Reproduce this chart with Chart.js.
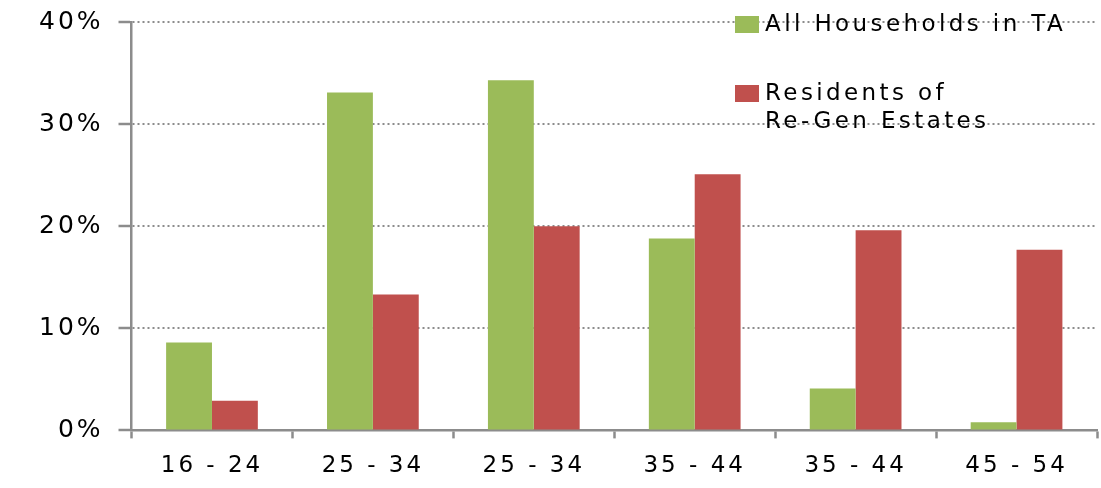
<!DOCTYPE html>
<html>
<head>
<meta charset="utf-8">
<script src="https://cdn.jsdelivr.net/npm/chart.js@4"></script>
<style>
  html, body { margin: 0; padding: 0; background: #fff; }
  #wrap { width: 1101px; height: 488px; }
</style>
</head>
<body>
<div id="wrap"><canvas id="myChart" width="1101" height="488"></canvas></div>
<script>
// 年齢層ラベル
const categories = ['16 - 24', '25 - 34', '25 - 34', '35 - 44', '35 - 44', '45 - 54'];
// 系列データ (%)
const allHouseholds = [8.6, 33.1, 34.3, 18.8, 4.1, 0.8];
const regenResidents = [2.9, 13.3, 20.0, 25.1, 19.6, 17.7];
// 凡例ラベル
const seriesLabels = [['All Households in TA'], ['Residents of', 'Re-Gen Estates']];
const seriesColors = ['#9BBB59', '#C0504D'];
const yTicks = [0, 10, 20, 30, 40];

const FONT = '"DejaVu Sans", Verdana, sans-serif';
const SPACING = '2px';

// 軸ラベル描画時だけ文字間隔を変える
function widenLabels(scale, spacing) {
    if (scale._widened) return;
    const orig = scale.drawLabels;
    scale.drawLabels = function (area) {
        const old = this.ctx.letterSpacing;
        this.ctx.letterSpacing = spacing;
        orig.call(this, area);
        this.ctx.letterSpacing = old;
    };
    scale._widened = true;
}

// 文字間隔を広げる (元画像は横長の文字)
const spacingPlugin = {
    id: 'spacing',
    beforeLayout(chart) { chart.ctx.letterSpacing = SPACING; },
    afterUpdate(chart) {
        widenLabels(chart.scales.y, '3px');
        widenLabels(chart.scales.x, '3px');
    },
    beforeDraw(chart) { chart.ctx.letterSpacing = SPACING; }
};

// 凡例をプロット内右上に描画
const legendPlugin = {
    id: 'insideLegend',
    afterDraw(chart) {
        const ctx = chart.ctx;
        const x = chart.chartArea.right - 362;
        const rows = [chart.chartArea.top + 2, chart.chartArea.top + 71];
        ctx.save();
        ctx.letterSpacing = '3.4px';
        ctx.font = '23px ' + FONT;
        ctx.textBaseline = 'middle';
        seriesLabels.forEach((lines, i) => {
            ctx.fillStyle = seriesColors[i];
            ctx.fillRect(x, rows[i] - 8, 24, 17);
            ctx.fillStyle = '#000';
            lines.forEach((t, j) => {
                ctx.fillText(t, x + 30, rows[i] + 1 + j * 28);
            });
        });
        ctx.restore();
    }
};

new Chart(document.getElementById('myChart'), {
    type: 'bar',
    data: {
        labels: categories,
        datasets: [{
            label: seriesLabels[0].join(' '),
            data: allHouseholds,
            backgroundColor: seriesColors[0],
            borderWidth: 0
        }, {
            label: seriesLabels[1].join(' '),
            data: regenResidents,
            backgroundColor: seriesColors[1],
            borderWidth: 0
        }]
    },
    options: {
        responsive: false,
        animation: false,
        devicePixelRatio: 1,
        categoryPercentage: 0.57,
        barPercentage: 1,
        layout: { padding: { left: 39, right: 4, top: 22, bottom: -6 } },
        plugins: {
            legend: { display: false },
            tooltip: { enabled: false }
        },
        scales: {
            x: {
                grid: {
                    drawOnChartArea: false,
                    drawTicks: true,
                    tickLength: 8,
                    tickWidth: 2.5,
                    tickColor: '#8c8c8c',
                    offset: true
                },
                border: { display: true, color: '#8c8c8c', width: 2.5 },
                ticks: {
                    color: '#000',
                    padding: 14,
                    font: { family: FONT, size: 23 }
                }
            },
            y: {
                min: 0,
                max: 40,
                afterBuildTicks(axis) {
                    axis.ticks = yTicks.map(v => ({ value: v }));
                },
                grid: {
                    color: '#8c8c8c',
                    lineWidth: 2,
                    tickBorderDash: [],
                    tickLength: 13,
                    tickWidth: 2.5,
                    tickColor: '#8c8c8c'
                },
                border: { display: true, color: '#8c8c8c', width: 2.5, dash: [2, 3] },
                ticks: {
                    color: '#000',
                    padding: 4,
                    font: { family: FONT, size: 25, lineHeight: 0.5 },
                    callback: v => v + '% '
                }
            }
        }
    },
    plugins: [spacingPlugin, legendPlugin]
});
</script>
</body>
</html>
